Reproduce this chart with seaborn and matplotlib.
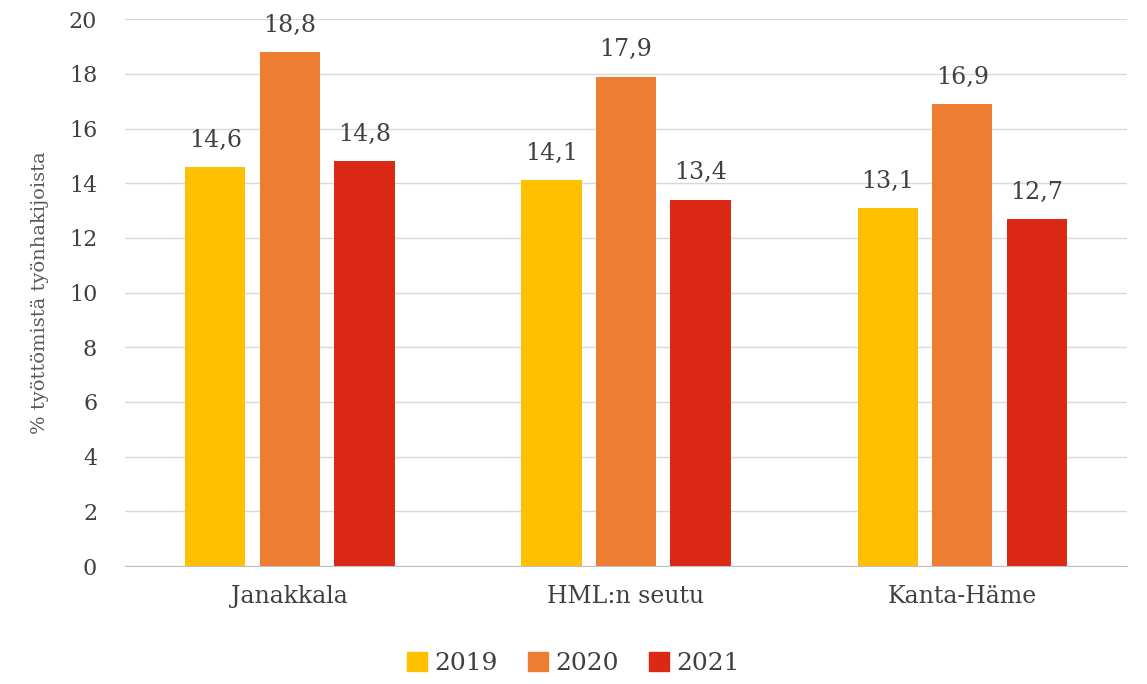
import pandas as pd
import seaborn as sns
import matplotlib.pyplot as plt

# data
regions = ['Janakkala', 'HML:n seutu', 'Kanta-Häme']
years = ['2019', '2020', '2021']
v2019 = [14.6, 14.1, 13.1]
v2020 = [18.8, 17.9, 16.9]
v2021 = [14.8, 13.4, 12.7]
colors = ['#FFC000', '#ED7D31', '#DC2916']

df = pd.DataFrame({
    'Alue': regions * 3,
    'Vuosi': [y for y in years for _ in regions],
    'Arvo': v2019 + v2020 + v2021,
})

sns.set_style('white')
plt.rcParams['font.family'] = ['DejaVu Serif']
txt = '#404040'

fig = plt.figure(figsize=(11.47, 6.84), dpi=100)
ax = fig.add_axes([0.109, 0.1725, 0.8736, 0.7995])

sns.barplot(data=df, x='Alue', y='Arvo', hue='Vuosi', palette=colors,
            saturation=1, linewidth=0, width=0.665, gap=0.19, ax=ax, legend=False)

for cont in ax.containers:
    ax.bar_label(cont, labels=[f'{b.get_height():.1f}'.replace('.', ',') for b in cont],
                 padding=11, fontsize=17, color=txt)

ax.set_ylim(0, 20)
ax.set_yticks(range(0, 21, 2))
ax.set_xlim(-0.49, 2.49)
ax.grid(axis='y', color='#D9D9D9', linewidth=1)
ax.set_axisbelow(True)
for s in ['left', 'right', 'top']:
    ax.spines[s].set_visible(False)
ax.spines['bottom'].set_color('#BFBFBF')
ax.tick_params(axis='y', labelsize=16, labelcolor=txt, length=0, pad=20)
ax.tick_params(axis='x', labelsize=17, labelcolor=txt, length=0, pad=14)
ax.set_xlabel('')
ax.set_ylabel('% työttömistä työnhakijoista', fontsize=14, color='#595959', labelpad=14)

handles = [plt.Rectangle((0, 0), 1, 1, color=c) for c in colors]
fig.legend(handles, years, loc='lower center', bbox_to_anchor=(0.5, -0.02), ncol=3,
           frameon=False, fontsize=18, handlelength=0.8, handleheight=0.8,
           handletextpad=0.3, columnspacing=1.2, labelcolor=txt)

fig.savefig('out.png', dpi=100)
